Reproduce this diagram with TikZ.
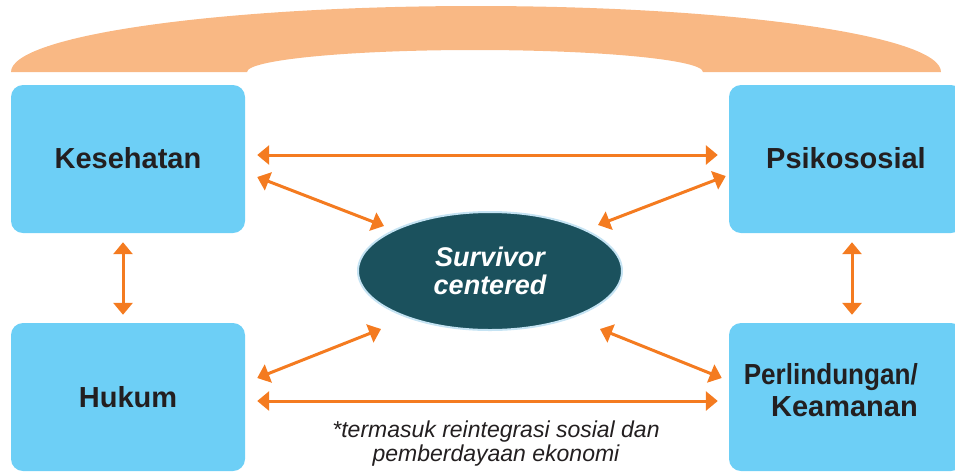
\documentclass[tikz,border=0pt]{standalone}
\usepackage{fontspec}
\setmainfont{Liberation Sans}
\usetikzlibrary{arrows.meta,shapes.geometric,calc}

\definecolor{boxblue}{HTML}{6DCFF6}
\definecolor{archorange}{HTML}{F9B884}
\definecolor{arroworange}{HTML}{F47B20}
\definecolor{coreteal}{HTML}{1B515D}
\definecolor{coreedge}{HTML}{C5E3F3}
\definecolor{labelink}{HTML}{231F20}

\tikzset{
  area/.style={fill=boxblue, draw=none, rounded corners=12pt,
    minimum width=234pt, minimum height=148pt, inner sep=0pt,
    text=labelink, font=\fontsize{29}{32}\selectfont\bfseries},
  areatext/.style={text=labelink, inner sep=0pt,
    font=\fontsize{29}{32}\selectfont\bfseries},
  core/.style={ellipse, fill=coreteal, draw=coreedge, line width=2pt,
    minimum width=264pt, minimum height=118pt, inner sep=0pt,
    text=white, align=center,
    font=\fontsize{27}{28}\selectfont\bfseries\itshape},
  link/.style={draw=arroworange, line width=3pt,
    {Triangle[length=12pt,width=19pt]}-{Triangle[length=12pt,width=19pt]}},
  note/.style={text=labelink, align=center, inner sep=0pt,
    font=\fontsize{23}{24}\selectfont\itshape}
}

\begin{document}
\begin{tikzpicture}[x=1pt,y=1pt]
  \useasboundingbox (0,0) rectangle (955,-475);
  \clip (0,0) rectangle (955,-475);

  % umbrella arch over the four areas
  \fill[archorange] (11,-72)
    arc[start angle=180, end angle=0, x radius=465pt, y radius=66pt]
    -- (703,-72)
    arc[start angle=0, end angle=180, x radius=228pt, y radius=22pt]
    -- cycle;

  % service areas
  \node[area] (kes) at (128,-159) {\raisebox{2pt}{Kesehatan}};
  \node[area] (psi) at (846,-159) {\raisebox{2pt}{Psikososial}};
  \node[area] (huk) at (128,-397) {Hukum};
  \node[area] (per) at (846,-397) {};
  \node[areatext, align=right, anchor=east] (pertext)
    at ($(per.center)+(72,6.5)$)
    {\scalebox{0.9}[1]{Perlindungan/}\\Keamanan};

  % centre
  \node[core] (sc) at (490,-271) {Survivor\\centered};

  % links
  \draw[link] ($(kes.east)+(12,4)$) -- ($(psi.west)+(-11,4)$);
  \draw[link] ($(huk.east)+(12,-4)$) -- ($(per.west)+(-11,-4)$);
  \draw[link] ($(kes.south)+(-5,-9)$) -- ($(huk.north)+(-5,8)$);
  \draw[link] ($(psi.south)+(6,-9)$) -- ($(per.north)+(6,8)$);
  \draw[link] ($(kes.east)+(12,-18)$) -- ($(sc.center)+(-106,45)$);
  \draw[link] ($(psi.west)+(-3,-17)$) -- ($(sc.center)+(108,46)$);
  \draw[link] ($(huk.east)+(12,19)$) -- ($(sc.center)+(-109,-58)$);
  \draw[link] ($(per.west)+(-7,19)$) -- ($(sc.center)+(110,-58)$);

  % footnote
  \node[note, anchor=base] (fn) at (496,-461)
    {*termasuk reintegrasi sosial dan\\pemberdayaan ekonomi};
\end{tikzpicture}
\end{document}
